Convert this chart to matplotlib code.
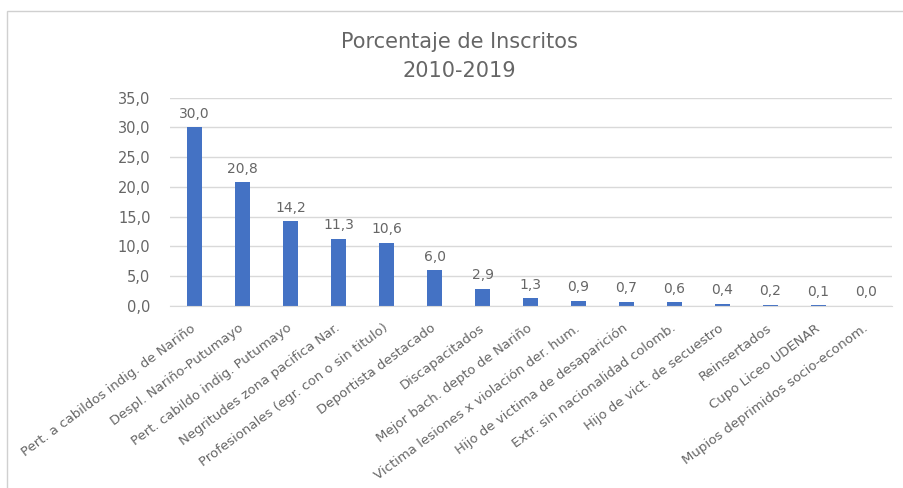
import matplotlib.pyplot as plt
from matplotlib.patches import Rectangle

# ==========================================
# DATOS
# ==========================================
categorias = [
    "Pert. a cabildos indig. de Nariño",
    "Despl. Nariño-Putumayo",
    "Pert. cabildo indig. Putumayo",
    "Negritudes zona pacifica Nar.",
    "Profesionales (egr. con o sin titulo)",
    "Deportista destacado",
    "Discapacitados",
    "Mejor bach. depto de Nariño",
    "Victima lesiones x violación der. hum.",
    "Hijo de victima de desaparición",
    "Extr. sin nacionalidad colomb.",
    "Hijo de vict. de secuestro",
    "Reinsertados",
    "Cupo Liceo UDENAR",
    "Mupios deprimidos socio-econom.",
]
porcentajes = [30.0, 20.8, 14.2, 11.3, 10.6, 6.0, 2.9, 1.3, 0.9, 0.7, 0.6, 0.4, 0.2, 0.1, 0.0]
ticks_y = [0, 5, 10, 15, 20, 25, 30, 35]

GRIS = "#666666"
AZUL = "#4472C4"

plt.rcParams['font.family'] = ['DejaVu Sans']

fig = plt.figure(figsize=(9.04, 4.88), dpi=100)
# marco del grafico
fig.patches.append(Rectangle((7 / 904, -0.05), 1.0, 1 - 11 / 488 + 0.05, transform=fig.transFigure,
                             fill=False, edgecolor="#D0D0D0", linewidth=1.0))

ax = fig.add_axes([170 / 904, 1 - 306 / 488, (892 - 170) / 904, (306 - 97.7) / 488])

x = list(range(len(categorias)))
ax.bar(x, porcentajes, width=0.31, color=AZUL, zorder=2)

for xi, v in zip(x, porcentajes):
    ax.text(xi, v + 1.1, f"{v:.1f}".replace(".", ","), ha='center', va='bottom',
            fontsize=10, color=GRIS)

ax.set_ylim(0, 35)
ax.set_xlim(-0.51, len(categorias) - 0.47)
ax.set_yticks(ticks_y)
ax.set_yticklabels([f"{t:.1f}".replace(".", ",") for t in ticks_y], fontsize=10.5, color=GRIS)
ax.set_xticks(x)
ax.set_xticklabels(categorias, rotation=36.5, ha='right', va='center', rotation_mode='anchor',
                   fontsize=9.5, color=GRIS)
ax.tick_params(axis='both', length=0)
ax.tick_params(axis='y', pad=14)
ax.tick_params(axis='x', pad=15)

ax.grid(axis='y', color="#D9D9D9", linewidth=1.0, zorder=0)
for lado in ['top', 'right', 'left']:
    ax.spines[lado].set_visible(False)
ax.spines['bottom'].set_color("#D9D9D9")

fig.text(459 / 904, 1 - 42 / 488, "Porcentaje de Inscritos", ha='center', va='center',
         fontsize=15, color=GRIS)
fig.text(459 / 904, 1 - 71 / 488, "2010-2019", ha='center', va='center',
         fontsize=15, color=GRIS)

fig.savefig("out.png", dpi=100)
